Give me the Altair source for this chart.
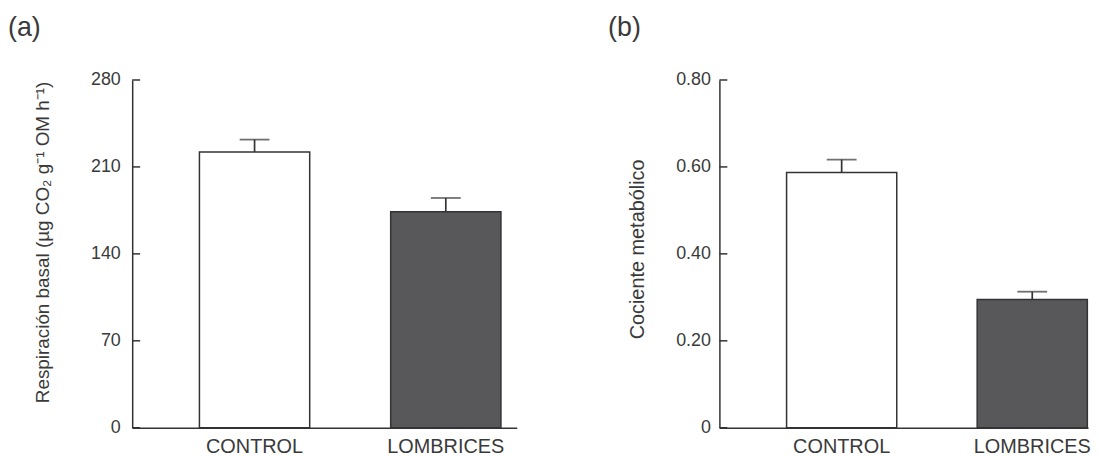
import altair as alt
import pandas as pd

categories = ["CONTROL", "LOMBRICES"]
resp_mean = [222, 174]
resp_err = [10, 11]
coc_mean = [0.587, 0.295]
coc_err = [0.030, 0.018]
resp_ticks = [0, 70, 140, 210, 280]
coc_ticks = [0.0, 0.2, 0.4, 0.6, 0.8]
bar_fill = ["#ffffff", "#58585a"]

FONT = "Liberation Sans"
INK = "#333333"
TXT = "#3a3a3a"


def panel(means, errs, ticks, dom, ytitle, label, width, pin, pout, align,
          label_expr, title_dx, title_x, title_y, label_pad, title_size):
    df = pd.DataFrame({
        "cat": categories,
        "mean": means,
        "top": [m + e for m, e in zip(means, errs)],
    })
    tdf = pd.DataFrame({"tick": ticks})
    xaxis = alt.Axis(title=None, labelAngle=0, ticks=False, labelPadding=9,
                     labelFontSize=20, labelFont=FONT, labelColor=TXT,
                     domainColor=INK, domainWidth=1.5)
    x = alt.X("cat:N", sort=categories,
              scale=alt.Scale(paddingInner=pin, paddingOuter=pout, align=align),
              axis=xaxis)
    yscale = alt.Scale(domain=dom, nice=False, zero=True)
    yaxis = alt.Axis(title=ytitle, values=ticks, ticks=False, grid=False,
                     labelPadding=label_pad, labelExpr=label_expr,
                     labelFontSize=18, labelFont=FONT, labelColor=TXT,
                     domainColor=INK, domainWidth=1.5,
                     titleFontSize=title_size, titleFont=FONT, titleFontWeight="normal",
                     titleColor=TXT, titleX=title_x, titleY=title_y)
    bars = alt.Chart(df).mark_bar(stroke=INK, strokeWidth=1.5).encode(
        x=x,
        y=alt.Y("mean:Q", scale=yscale, axis=yaxis),
        fill=alt.Fill("cat:N", scale=alt.Scale(domain=categories, range=bar_fill), legend=None),
    )
    rules = alt.Chart(df).mark_rule(color=INK, strokeWidth=1.7).encode(
        x=x,
        y=alt.Y("mean:Q", scale=yscale, axis=yaxis),
        y2="top:Q",
    )
    caps = alt.Chart(df).mark_tick(size=30, thickness=1.8, color=INK).encode(
        x=x,
        y=alt.Y("top:Q", scale=yscale, axis=yaxis),
    )
    tks = alt.Chart(tdf).mark_rule(color=INK, strokeWidth=1.5).encode(
        y=alt.Y("tick:Q", scale=yscale, axis=yaxis),
        x=alt.value(0),
        x2=alt.value(8),
    )
    return alt.layer(bars, rules, caps, tks).properties(
        width=width, height=350,
        title=alt.TitleParams(label, anchor="start", frame="group", dx=title_dx,
                              fontSize=27, fontWeight="normal", font=FONT,
                              color=TXT, baseline="alphabetic", offset=8),
    )


pa = panel(resp_mean, resp_err, resp_ticks, [0, 280],
           "Respiración basal (µg CO₂ g⁻¹ OM h⁻¹)", "(a)", 387,
           0.4234, 0.217, 0.81, "format(datum.value, 'd')", -125, -80, 163, 12, 19)
pb = panel(coc_mean, coc_err, coc_ticks, [0, 0.8],
           "Cociente metabólico", "(b)", 371,
           0.422, 0.178, 0.99,
           "datum.value == 0 ? '0' : format(datum.value, '.2f')", -112, -72, 170, 9, 20)

chart = alt.hconcat(pa, pb, spacing=92).properties(
    padding={"left": 0, "top": 5, "right": 0, "bottom": 0}
).configure(background="white").configure_view(stroke=None)

chart.save("out.html", embed_options={"renderer": "svg", "actions": False})
